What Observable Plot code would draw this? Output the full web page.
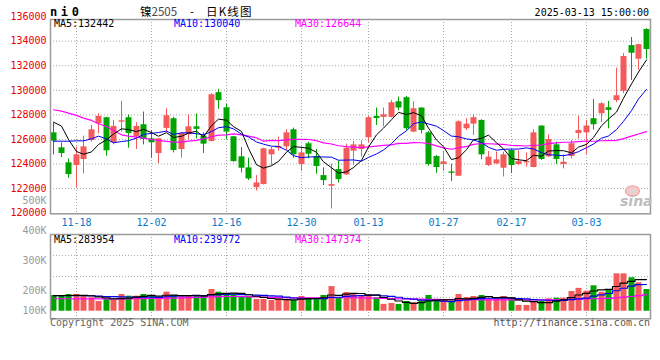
<!DOCTYPE html>
<html><head><meta charset="utf-8">
<script src="https://cdn.jsdelivr.net/npm/d3@7"></script>
<script src="https://cdn.jsdelivr.net/npm/@observablehq/plot@0.6"></script>
<style>
body{margin:0;background:#fff;}
#chart{position:relative;width:660px;height:360px;overflow:hidden;background:#fff;}
#chart svg{position:absolute;left:0;top:0;max-width:none;}
</style></head><body><div id="chart"></div>
<script>
const dates = ["2024-11-13","2024-11-14","2024-11-15","2024-11-18","2024-11-19","2024-11-20","2024-11-21","2024-11-22","2024-11-25","2024-11-26","2024-11-27","2024-11-28","2024-11-29",
"2024-12-02","2024-12-03","2024-12-04","2024-12-05","2024-12-06","2024-12-09","2024-12-10","2024-12-11","2024-12-12","2024-12-13","2024-12-16","2024-12-17","2024-12-18","2024-12-19","2024-12-20","2024-12-23","2024-12-24","2024-12-25","2024-12-26","2024-12-27","2024-12-30","2024-12-31",
"2025-01-02","2025-01-03","2025-01-06","2025-01-07","2025-01-08","2025-01-09","2025-01-10","2025-01-13","2025-01-14","2025-01-15","2025-01-16","2025-01-17","2025-01-20","2025-01-21","2025-01-22","2025-01-23","2025-01-24","2025-01-27",
"2025-02-05","2025-02-06","2025-02-07","2025-02-10","2025-02-11","2025-02-12","2025-02-13","2025-02-14","2025-02-17","2025-02-18","2025-02-19","2025-02-20","2025-02-21","2025-02-24","2025-02-25","2025-02-26","2025-02-27","2025-02-28",
"2025-03-03","2025-03-04","2025-03-05","2025-03-06","2025-03-07","2025-03-10","2025-03-11","2025-03-12","2025-03-13"];

const tickDates = ["2024-11-18","2024-12-02","2024-12-16","2024-12-30","2025-01-13","2025-01-27","2025-02-17","2025-03-03"];
const priceTicks = [120000,122000,124000,126000,128000,130000,132000,134000,136000];
const priceGrid = [122000,124000,126000,128000,130000,132000,134000];
const volTicks = [200000,300000,400000,500000];
const volBottomTick = [100000];

const open = [126540,125320,124100,123880,124370,125920,127280,127770,125730,127410,
127770,126220,127200,126050,124860,126900,127690,125180,126380,127030,
126270,125840,129810,128580,126220,124590,123690,122080,122330,124750,
125290,125400,126790,123960,125650,124610,123060,122190,123550,123120,
125050,125180,126140,127880,127800,127800,129070,129400,126600,128560,
126540,124610,123960,123360,123010,126870,127250,127550,123880,124010,
123660,125100,123960,124100,123720,127090,124590,125560,123960,124610,
126490,126540,127690,128090,128580,129160,129920,133640,132530,134950];
const high = [127330,125730,124420,125370,126270,127140,128090,127800,127550,129100,
127990,127360,128230,126730,126080,128500,127800,126540,128010,128070,
126540,129730,130080,128860,126250,125350,124480,123060,125290,125370,
126190,126790,126920,125400,125780,125180,123690,123990,124230,125620,
125840,125890,127880,128560,128560,129180,129450,129510,129070,128580,
126650,124690,125050,123990,127520,127690,127990,127600,125020,124970,
124970,125160,125080,124910,126790,127120,126380,125780,124750,125920,
127880,127550,129240,128990,129100,131820,132990,134300,133750,135030];
const low = [124750,124530,122840,122080,123200,125780,126460,124640,125560,126600,
125290,125180,125560,124480,124040,126600,124910,124480,126000,126050,
124860,125800,128450,126000,124150,123280,122650,121810,122300,123880,
125050,125100,124480,123390,124420,123170,122250,120340,122460,123060,
123880,124560,125730,127140,127030,127740,128340,126680,126540,126460,
123820,123250,123390,122570,122980,126730,126330,124370,123800,123960,
122950,123220,123880,123740,123690,124290,124530,123960,123610,124420,
126050,124780,126760,127360,126870,128990,129730,130810,131630,132530];
const close = [125860,124860,123140,124750,125400,126790,127880,125080,127060,127520,
126490,127060,126000,125730,126050,127930,125100,126490,127030,126820,
125620,129640,129160,126600,124200,123660,122790,122460,125240,125160,
125430,126540,124750,124910,124800,123800,122650,122330,122740,125290,
125560,125560,127770,127710,128010,128990,128560,126870,128500,126730,
123960,123720,124180,123250,127440,127250,127770,124750,124560,124340,
124750,123880,124200,124200,126540,124370,126000,124370,124150,125650,
126730,127090,127200,128910,128370,129560,132750,133020,133720,133320];

const ma5 = [127410,127090,126000,125020,124802,124988,125592,125980,126442,126866,
126806,126642,126826,126560,126266,126554,126162,126260,126520,126674,
126212,127120,127654,127568,127044,126652,125282,123942,123670,123862,
124216,124966,125424,125358,125286,124960,124182,123698,123264,123362,
123714,124296,125384,126378,126922,127608,128208,128028,128186,127930,
126924,125956,125418,124368,124510,125168,125978,126092,126354,125734,
125234,124456,124346,124274,124714,124638,125062,125096,125086,124908,
125380,125598,126164,127116,127660,128226,129358,130522,131484,132474];
const ma10 = [125860,125860,125860,125890,125890,126050,126270,126050,125730,125834,
125897,126117,126403,126501,126566,126680,126402,126543,126540,126470,
126383,126641,126957,127044,126859,126432,126201,125798,125619,125453,
125434,125124,124683,124514,124574,124588,124574,124561,124311,124324,
124337,124239,124541,124821,125142,125661,126252,126706,127282,127426,
127266,127082,126723,126277,126220,126046,125967,125755,125361,125122,
125201,125217,125219,125314,125224,124936,124759,124721,124680,124811,
125009,125330,125630,126101,126284,126803,127478,128343,129300,130067];
const ma30 = [128420,128310,128150,127960,127740,127550,127280,127060,126730,126380,
126270,126190,126110,126000,125920,125840,125780,125780,125860,125920,
126050,126220,126350,126380,126460,126380,126270,126140,125860,125919,
125905,125961,126014,126020,126000,125900,125726,125634,125490,125416,
125385,125335,125394,125460,125525,125560,125676,125688,125737,125734,
125679,125482,125316,125204,125312,125432,125598,125674,125651,125624,
125601,125513,125494,125471,125529,125548,125659,125727,125774,125786,
125825,125876,125857,125897,125909,125928,126068,126273,126447,126644];

const vol = [141000,141000,150000,150000,132000,120000,87000,114000,96000,150000,
135000,135000,150000,141000,120000,171000,141000,132000,132000,141000,
141000,195000,171000,156000,147000,132000,132000,105000,105000,96000,
108000,108000,96000,132000,117000,117000,141000,221000,117000,168000,
150000,138000,147000,120000,61000,70000,61000,87000,76000,93000,
141000,102000,96000,79000,150000,123000,132000,141000,108000,108000,
132000,111000,52000,52000,79000,90000,111000,117000,117000,177000,
205000,180000,228000,170000,195000,335000,335000,300000,255000,195000];
const vma5 = [140000,140000,141000,142000,142800,138600,127800,120600,109800,113400,
116400,126000,133200,142200,136200,143400,144600,141000,139200,143400,
137400,148200,156000,160800,162000,160200,147600,134400,124200,114000,
109200,104400,102600,108000,112200,114000,120600,145600,142600,152800,
159400,158800,144000,144600,123200,107200,91800,79800,71000,77400,
91600,99800,101600,102200,113600,110000,116000,125000,130800,122400,
124200,120000,102200,91000,85200,76800,76800,89800,102800,122400,
145400,159200,181400,192000,195600,221600,252600,267000,284000,283954];
const vma10 = [140000,140000,140000,140000,140000,138000,135000,132000,130000,128100,
127500,126900,126900,126000,124800,129900,135300,137100,140700,139800,
140400,146400,148500,150000,152700,148800,147900,145200,142500,138000,
134700,126000,118500,116100,113100,111600,112500,124100,125300,132500,
136700,139700,144800,143600,138000,133300,125300,111900,107800,100300,
99400,95800,90700,86600,95500,100800,107900,113300,116500,118000,
117100,118000,113600,110900,103800,100500,98400,96000,96900,103800,
111100,118000,135600,147400,159000,183500,205900,224200,238000,239772];
const vma30 = [112000,112000,112000,111000,111000,111000,110000,110000,110000,111000,
111000,112000,113000,114000,115000,117000,118000,120000,122000,124000,
126000,129000,131000,132000,132000,131000,130000,128000,126000,124000,
122000,121000,120000,120000,120000,120000,120000,121000,121000,121000,
120000,119000,118000,117000,115000,113000,111000,110000,109000,108000,
107000,106000,105000,104000,103000,103000,103000,102000,102000,102000,
102000,102000,101000,101000,101000,101000,102000,103000,104000,106000,
108000,110000,112000,113000,116000,120000,126000,132000,139000,147374];

const priceLegend = ["MA5:132442","MA10:130040","MA30:126644"];
const volLegend = ["MA5:283954","MA10:239772","MA30:147374"];
const legendColors = ["#000","#00f","#f0f"];
const titleCode = "ni0";
const titleName = ["镍2505","-","日K线图"];
const stamp = "2025-03-13 15:00:00";
const copyright = "Copyright 2025 SINA.COM";
const site = "http://finance.sina.com.cn";

// ---------- layout ----------
const W = 660, H = 360;
const MONO = "'DejaVu Sans Mono', monospace";
const RED = "#f55a5a", GREEN = "#00a400", GRID = "#a8a8a8", FRAME = "#9a9a9a";
const idx = d3.range(dates.length);
const tickIdx = tickDates.map(d => dates.indexOf(d));
const colorOf = i => close[i] >= open[i] ? RED : GREEN;
const xCfg = {type: "linear", domain: [0, dates.length - 1], range: [53, 646], round: true, axis: null};
const baseStyle = {background: "transparent", fontFamily: MONO, fontSize: "10px", overflow: "visible"};
const chart = document.getElementById("chart");

// volume label axis (its own scale, as in the source picture)
const volAxis = Plot.plot({
  width: W, height: H, marginLeft: 50, marginRight: 10, marginTop: 0, marginBottom: 0,
  y: {domain: [0, 500000], range: [350, 200], axis: null},
  style: baseStyle,
  marks: [
    Plot.axisY(volTicks, {anchor: "left", tickSize: 0, tickPadding: 4, fill: "#9a9a9a", label: null, tickFormat: d => d / 1000 + "K"}),
    Plot.text(volBottomTick, {y: d => d, frameAnchor: "left", dx: -4, dy: -10, textAnchor: "end", fill: "#9a9a9a", text: d => d / 1000 + "K"})
  ]
});
chart.append(volAxis);

// price panel
const pricePlot = Plot.plot({
  width: W, height: H, marginLeft: 50, marginRight: 10, marginTop: 19, marginBottom: H - 213.3,
  x: xCfg,
  y: {domain: [120000, 136000], range: [212.7, 16.1], axis: null},
  color: {type: "identity"},
  style: baseStyle,
  marks: [
    Plot.ruleY(priceGrid, {stroke: GRID, strokeDasharray: "1,2"}),
    Plot.ruleX(tickIdx, {stroke: GRID, strokeDasharray: "1,2"}),
    Plot.axisY(priceTicks, {anchor: "left", tickSize: 0, tickPadding: 4, fill: "#e80000", label: null, tickFormat: d => String(d)}),
    Plot.axisX(tickIdx, {anchor: "bottom", tickSize: 0, tickPadding: 5, fill: "#0a78c8", label: null, tickFormat: i => dates[i].slice(5)}),
    Plot.ruleX(idx, {x: i => i, y1: i => low[i], y2: i => high[i], stroke: colorOf, strokeWidth: 1}),
    Plot.ruleX(idx, {x: i => i, y1: i => open[i], y2: i => close[i], stroke: colorOf, strokeWidth: 6}),
    Plot.line(idx, {x: i => i, y: i => ma30[i], stroke: "#f0f", strokeWidth: 1.2}),
    Plot.line(idx, {x: i => i, y: i => ma10[i], stroke: "#0000f0", strokeWidth: 1}),
    Plot.line(idx, {x: i => i, y: i => ma5[i], stroke: "#000", strokeWidth: 1}),
    Plot.frame({stroke: FRAME, strokeWidth: 1.5})
  ]
});
chart.append(pricePlot);

// volume panel
const vDomain = [-68000, 688000];
const volGrid = [1, 2, 3].map(k => vDomain[0] + k * (vDomain[1] - vDomain[0]) / 4);
const volPlot = Plot.plot({
  width: W, height: H, marginLeft: 50, marginRight: 10, marginTop: 234, marginBottom: H - 318.3,
  x: xCfg,
  y: {domain: vDomain, range: [318.3, 234], axis: null},
  color: {type: "identity"},
  style: baseStyle,
  marks: [
    Plot.ruleY(volGrid, {stroke: GRID, strokeDasharray: "1,2"}),
    Plot.ruleX(tickIdx, {stroke: GRID, strokeDasharray: "1,2"}),
    Plot.ruleX(idx, {x: i => i, y1: 0, y2: i => vol[i], stroke: colorOf, strokeWidth: 6}),
    Plot.line(idx, {x: i => i, y: i => vma30[i], stroke: "#f0f", strokeWidth: 1.2, curve: "step"}),
    Plot.line(idx, {x: i => i, y: i => vma10[i], stroke: "#0000f0", strokeWidth: 1.2, curve: "step"}),
    Plot.line(idx, {x: i => i, y: i => vma5[i], stroke: "#000", strokeWidth: 1.2, curve: "step"}),
    Plot.frame({stroke: FRAME, strokeWidth: 1.5})
  ]
});
chart.append(volPlot);

// texts: titles, legends, credits, watermark
const deco = d3.create("svg").attr("width", W).attr("height", H)
  .style("font-family", MONO).style("font-size", "10px");
const legendX = [54, 174, 295];
priceLegend.forEach((t, k) => deco.append("text").attr("x", legendX[k]).attr("y", 26.5).attr("fill", legendColors[k]).text(t));
volLegend.forEach((t, k) => deco.append("text").attr("x", legendX[k]).attr("y", 242.5).attr("fill", legendColors[k]).text(t));
deco.append("text").attr("x", 50).attr("y", 15.5).attr("font-weight", "bold").attr("font-size", 12)
  .attr("letter-spacing", 3.6).text(titleCode);
const CJK = "'Noto Sans CJK SC', sans-serif";
const t1 = deco.append("text").attr("x", 140).attr("y", 15.5).attr("font-family", CJK).attr("font-size", 11.5);
t1.append("tspan").attr("fill", "#000").text(titleName[0].slice(0, 1));
t1.append("tspan").attr("fill", "#444").text(titleName[0].slice(1));
deco.append("text").attr("x", 190).attr("y", 15.5).attr("font-family", CJK).attr("font-size", 11.5).text(titleName[1]);
deco.append("text").attr("x", 206).attr("y", 15.5).attr("font-family", CJK).attr("font-size", 11.5)
  .attr("letter-spacing", 1.2).text(titleName[2]);
deco.append("text").attr("x", 649).attr("y", 15.7).attr("text-anchor", "end").attr("fill", "#000").text(stamp);
deco.append("text").attr("x", 50).attr("y", 326.3).attr("fill", "#666").text(copyright);
deco.append("text").attr("x", 650).attr("y", 326.3).attr("text-anchor", "end").attr("fill", "#555").text(site);
// sina watermark
deco.append("ellipse").attr("cx", 632.5).attr("cy", 191).attr("rx", 7).attr("ry", 5.2)
  .attr("fill", "#f6caca").attr("stroke", "#eda5a5").attr("stroke-width", 1.2);
deco.append("circle").attr("cx", 632.5).attr("cy", 191.5).attr("r", 2.4).attr("fill", "#d8d8d8");
deco.append("text").attr("x", 620).attr("y", 205.5).attr("font-family", "'DejaVu Sans', sans-serif")
  .attr("font-size", 14).attr("font-weight", "bold").attr("font-style", "italic").attr("fill", "#bdbdbd").text("sina");
chart.append(deco.node());
</script></body></html>
